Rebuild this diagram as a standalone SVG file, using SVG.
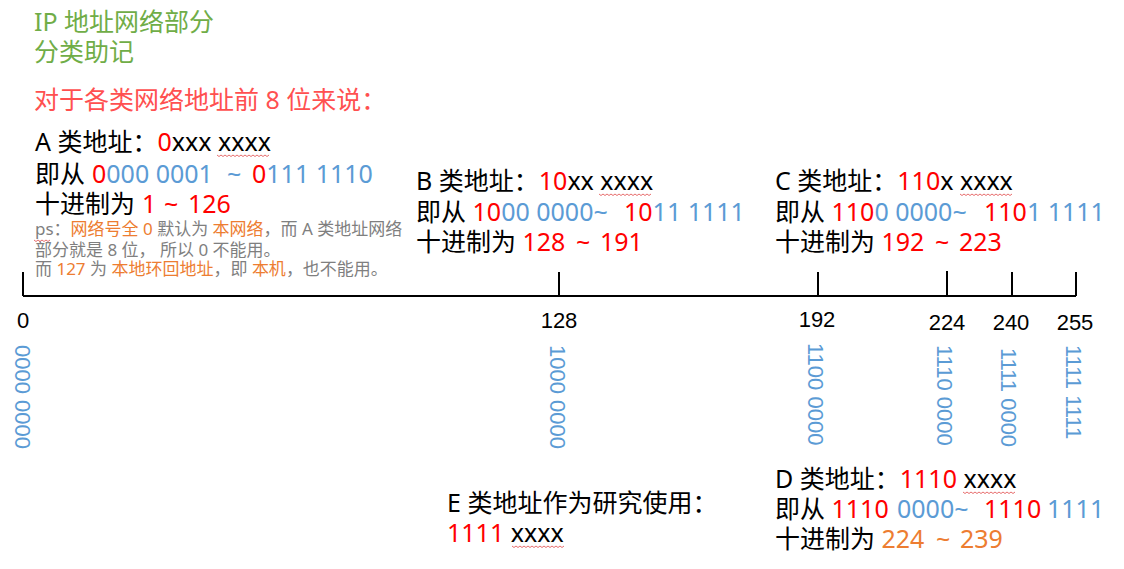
<svg xmlns="http://www.w3.org/2000/svg" width="1124" height="569" viewBox="0 0 1124 569">
<style>
text{font-family:"Noto Sans","Noto Sans CJK SC","Microsoft YaHei",sans-serif;white-space:pre}
.t{font-size:25px;fill:#000}
.ps{font-size:17px;fill:#7f7f7f}
.g{fill:#70ad47}
.r{fill:#ff0000}
.b{fill:#5b9bd5}
.o{fill:#ed7d31}
.k{fill:#000}
.title{fill:#ff5050}
.num{font-family:"Liberation Sans",Arial,sans-serif;font-size:22px;fill:#000}
.vb{font-family:"Liberation Sans",Arial,sans-serif;font-size:22px;fill:#5b9bd5}
.sq{fill:none;stroke:#e04848;stroke-width:0.8}
.axis{stroke:#000;stroke-width:2;fill:none}
</style>
<defs>
<path id="sq50" d="M0,0 l2,1.5 l2,-1.5 l2,1.5 l2,-1.5 l2,1.5 l2,-1.5 l2,1.5 l2,-1.5 l2,1.5 l2,-1.5 l2,1.5 l2,-1.5 l2,1.5 l2,-1.5 l2,1.5 l2,-1.5 l2,1.5 l2,-1.5 l2,1.5 l2,-1.5 l2,1.5 l2,-1.5 l2,1.5 l2,-1.5 l2,1.5 l2,-1.5"/>
<path id="sq16" d="M0,0 l2,1.5 l2,-1.5 l2,1.5 l2,-1.5 l2,1.5 l2,-1.5 l2,1.5 l2,-1.5"/>
</defs>

<g id="header">
<text class="t g" x="34" y="31">IP 地址网络部分</text>
<text class="t g" x="34" y="61">分类助记</text>
<text class="t title" x="34" y="109">对于各类网络地址前 8 位来说：</text>
</g>

<g id="classA">
<text class="t" x="35" y="151">A 类地址：<tspan class="r">0</tspan>xxx xxxx</text>
<text class="t" x="35" y="183">即从 <tspan class="r" x="92">0</tspan><tspan class="b">000 0001</tspan><tspan class="b" x="227">~</tspan><tspan class="r" x="252">0</tspan><tspan class="b">111 1110</tspan></text>
<text class="t" x="35" y="213">十进制为 <tspan class="r" x="142">1</tspan><tspan class="r" x="164">~</tspan><tspan class="r" x="188">126</tspan></text>
<text class="ps" x="35" y="235">ps：<tspan class="o">网络号全 0</tspan> 默认为 <tspan class="o">本网络</tspan>，而 A 类地址网络</text>
<text class="ps" x="35" y="256">部分就是 8 位， 所以 0 不能用。</text>
<text class="ps" x="35" y="275">而 <tspan class="o">127</tspan> 为 <tspan class="o">本地环回地址</tspan>，即 <tspan class="o">本机</tspan>，也不能用。</text>
<use href="#sq50" class="sq" x="217" y="155"/>
<use href="#sq16" class="sq" x="34" y="240"/>
</g>

<g id="classB">
<text class="t" x="416" y="190">B 类地址：<tspan class="r">10</tspan>xx xxxx</text>
<text class="t" x="416" y="221">即从 <tspan class="r">10</tspan><tspan class="b">00 0000~</tspan><tspan class="r" x="624">10</tspan><tspan class="b">11 1111</tspan></text>
<text class="t" x="416" y="251">十进制为 <tspan class="r">128</tspan><tspan class="r" x="576">~</tspan><tspan class="r" x="600">191</tspan></text>
<use href="#sq50" class="sq" x="599" y="194"/>
</g>

<g id="classC">
<text class="t" x="775" y="190">C 类地址：<tspan class="r">110</tspan>x xxxx</text>
<text class="t" x="775" y="221">即从 <tspan class="r">110</tspan><tspan class="b">0 0000~</tspan><tspan class="r" x="984">110</tspan><tspan class="b">1 1111</tspan></text>
<text class="t" x="775" y="251">十进制为 <tspan class="r">192</tspan><tspan class="r" x="935">~</tspan><tspan class="r" x="959">223</tspan></text>
<use href="#sq50" class="sq" x="960" y="194"/>
</g>

<g id="classD">
<text class="t" x="775" y="488">D 类地址：<tspan class="r">1110</tspan> xxxx</text>
<text class="t" x="775" y="518">即从 <tspan class="r">1110</tspan><tspan class="b" x="897">0000~</tspan><tspan class="r" x="984">1110</tspan><tspan class="b" x="1047">1111</tspan></text>
<text class="t" x="775" y="548">十进制为 <tspan class="o">224</tspan><tspan class="o" x="936">~</tspan><tspan class="o" x="960">239</tspan></text>
<use href="#sq50" class="sq" x="963" y="492"/>
</g>

<g id="classE">
<text class="t" x="447" y="512">E 类地址作为研究使用：</text>
<text class="t" x="447" y="542"><tspan class="r">1111</tspan> xxxx</text>
<use href="#sq50" class="sq" x="512" y="546"/>
</g>

<g id="connectors">
<path class="axis" d="M23,296 H1076 M23,272 V296 M559,272 V296 M818,272 V296 M947,271 V296 M1012,272 V296 M1076,272 V296"/>
</g>

<g id="scale">
<text class="num" x="23" y="328" text-anchor="middle">0</text>
<text class="num" x="559" y="328" text-anchor="middle">128</text>
<text class="num" x="817" y="327" text-anchor="middle">192</text>
<text class="num" x="947" y="330" text-anchor="middle">224</text>
<text class="num" x="1011" y="330" text-anchor="middle">240</text>
<text class="num" x="1075" y="330" text-anchor="middle">255</text>
<text class="vb" transform="translate(15,345) rotate(90)">0000 0000</text>
<text class="vb" transform="translate(550,345) rotate(90)">1000 0000</text>
<text class="vb" transform="translate(808,343) rotate(90)">1100 0000</text>
<text class="vb" transform="translate(937,345) rotate(90)">1110 0000</text>
<text class="vb" transform="translate(1001,348) rotate(90)">1111 0000</text>
<text class="vb" transform="translate(1066,345) rotate(90)">1111 1111</text>
</g>
</svg>
